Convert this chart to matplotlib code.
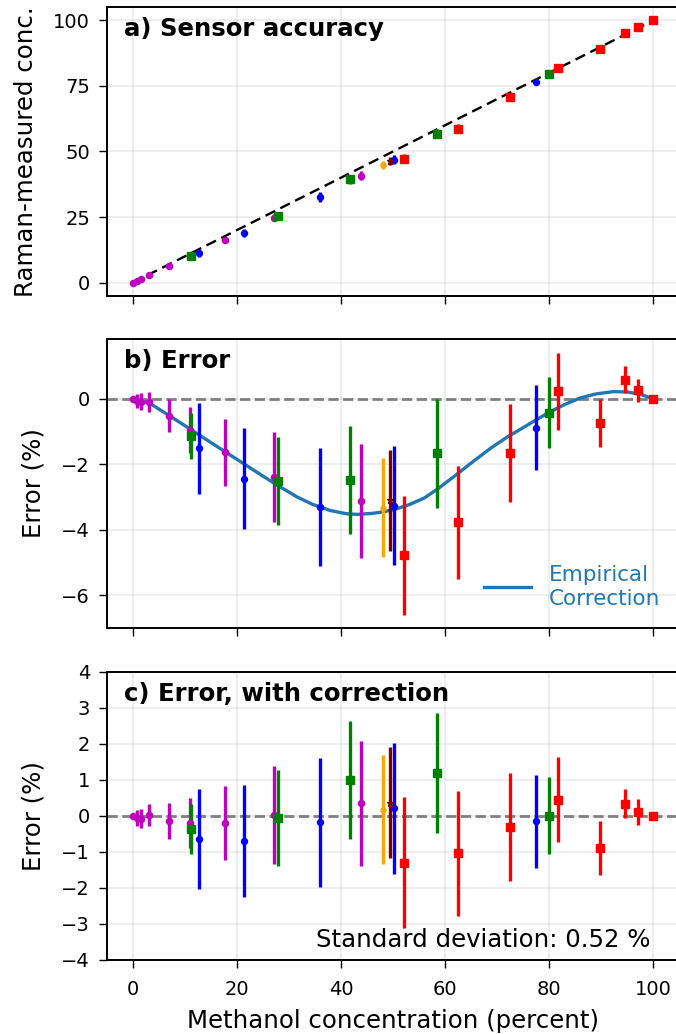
import numpy as np
import matplotlib
matplotlib.use('Agg')
import matplotlib.pyplot as plt

# true conc., error (b), error after correction (c), error bar half-width
mag_x = [0, 0.8, 1.6, 3.1, 6.9, 11.1, 17.8, 27.1, 43.9]
mag_err = [0, -0.06, -0.09, -0.10, -0.52, -0.96, -1.63, -2.38, -3.13]
mag_corr = [0, -0.05, -0.07, 0.02, -0.14, -0.20, -0.20, 0.03, 0.35]
mag_sd = [0, 0.22, 0.26, 0.30, 0.50, 0.70, 1.02, 1.37, 1.74]

grn_x = [11.2, 27.9, 41.8, 58.5, 79.9]
grn_err = [-1.13, -2.52, -2.47, -1.66, -0.42]
grn_corr = [-0.37, -0.06, 1.00, 1.20, 0.01]
grn_sd = [0.70, 1.34, 1.65, 1.66, 1.08]

blu_x = [12.7, 21.3, 35.9, 50.2, 77.4]
blu_err = [-1.51, -2.44, -3.31, -3.26, -0.88]
blu_corr = [-0.63, -0.69, -0.18, 0.21, -0.15]
blu_sd = [1.39, 1.55, 1.80, 1.81, 1.29]

org_x = [48.1]
org_err = [-3.33]
org_corr = [0.18]
org_sd = [1.51]

mar_x = [49.5]
mar_err = [-3.10]
mar_corr = [0.37]
mar_sd = [1.55]

red_x = [52.1, 62.5, 72.5, 81.7, 89.7, 94.5, 97.1, 100]
red_err = [-4.78, -3.77, -1.66, 0.23, -0.74, 0.59, 0.26, 0.0]
red_corr = [-1.30, -1.04, -0.31, 0.45, -0.89, 0.34, 0.12, 0.0]
red_sd = [1.82, 1.73, 1.50, 1.18, 0.74, 0.40, 0.36, 0.0]

# empirical correction curve
fit_x = [0, 1.8, 3.7, 6.9, 11, 14, 17.8, 21.5, 25.1, 28, 31.6, 34.5, 37.9, 41, 43.1,
         46, 48.2, 50.5, 53.3, 56, 58.6, 62.3, 65.5, 69, 72.2, 75, 77.3, 80, 83, 86,
         89, 92.3, 95, 97.5, 100]
fit_y = [0, -0.05, -0.18, -0.50, -0.92, -1.23, -1.62, -2.00, -2.37, -2.66, -3.00,
         -3.22, -3.41, -3.51, -3.53, -3.50, -3.45, -3.37, -3.22, -3.03, -2.75, -2.30,
         -1.90, -1.48, -1.14, -0.88, -0.66, -0.41, -0.17, 0.03, 0.15, 0.22, 0.21,
         0.14, 0]

std_text = 'Standard deviation: 0.52 %'

groups = [
    (mag_x, mag_err, mag_corr, mag_sd, 'm', 'o', 4.4),
    (grn_x, grn_err, grn_corr, grn_sd, 'g', 's', 5.3),
    (blu_x, blu_err, blu_corr, blu_sd, 'b', 'o', 4.3),
    (org_x, org_err, org_corr, org_sd, 'orange', 'o', 3.6),
    (mar_x, mar_err, mar_corr, mar_sd, 'maroon', '*', 4.5),
    (red_x, red_err, red_corr, red_sd, 'r', 's', 5.6),
]

plt.rcParams['axes.linewidth'] = 1.4

fig = plt.figure(figsize=(6.76, 10.34), dpi=100)
left, width, h = 0.1578, 0.8472, 0.2795
ax_a = fig.add_axes([left, 0.714, width, h])
ax_b = fig.add_axes([left, 0.3927, width, h])
ax_c = fig.add_axes([left, 0.0716, width, 0.2785])

for ax in (ax_a, ax_b, ax_c):
    ax.set_xlim(-5, 105)
    ax.set_xticks([0, 20, 40, 60, 80, 100])
    ax.grid(True, color='#b0b0b0', alpha=0.25, lw=1.2)
    ax.tick_params(direction='out', length=6, width=1.0, labelsize=14)
    ax.tick_params(axis='y', pad=6)
    ax.tick_params(axis='x', pad=8.5)

# a) measured vs true
ax_a.plot([0, 100], [0, 100], color='k', ls=(0, (4.5, 2.5)), lw=1.7)
for x, err, corr, sd, c, mk, ms in groups:
    x = np.array(x)
    ax_a.errorbar(x, x + np.array(err), yerr=sd, fmt=mk, color=c, ms=ms,
                  elinewidth=2.4, capsize=0)
ax_a.set_ylim(-5, 105.2)
ax_a.set_yticks([0, 25, 50, 75, 100])
ax_a.set_ylabel('Raman-measured conc.', fontsize=17.6, labelpad=11)
ax_a.tick_params(labelbottom=False)
ax_a.text(0.031, 0.965, 'a) Sensor accuracy', transform=ax_a.transAxes,
          fontsize=17.6, fontweight='bold', va='top')

# b) raw error + empirical correction
ax_b.axhline(0, color='gray', ls='--', lw=2)
ax_b.plot(fit_x, fit_y, color='#1f77b4', lw=2.4, label='Empirical\nCorrection')
for x, err, corr, sd, c, mk, ms in groups:
    ax_b.errorbar(x, err, yerr=sd, fmt=mk, color=c, ms=ms, elinewidth=2.4, capsize=0)
ax_b.set_ylim(-7, 1.83)
ax_b.set_yticks([-6, -4, -2, 0])
ax_b.set_ylabel('Error (%)', fontsize=17.6, labelpad=11)
ax_b.tick_params(labelbottom=False)
ax_b.text(0.031, 0.965, 'b) Error', transform=ax_b.transAxes,
          fontsize=17.6, fontweight='bold', va='top')
ax_b.legend(loc='lower right', frameon=False, fontsize=15.5, labelcolor='linecolor',
            handlelength=2.2)

# c) error after correction
ax_c.axhline(0, color='gray', ls='--', lw=2)
for x, err, corr, sd, c, mk, ms in groups:
    ax_c.errorbar(x, corr, yerr=sd, fmt=mk, color=c, ms=ms, elinewidth=2.4, capsize=0)
ax_c.set_ylim(-4, 4)
ax_c.set_yticks(range(-4, 5))
ax_c.set_ylabel('Error (%)', fontsize=17.6, labelpad=11)
ax_c.set_xlabel('Methanol concentration (percent)', fontsize=17.6, labelpad=7)
ax_c.text(0.031, 0.965, 'c) Error, with correction', transform=ax_c.transAxes,
          fontsize=17.6, fontweight='bold', va='top')
ax_c.text(0.949, 0.045, std_text, transform=ax_c.transAxes, fontsize=17.6,
          ha='right', va='baseline')

fig.savefig('out.png', dpi=100)
